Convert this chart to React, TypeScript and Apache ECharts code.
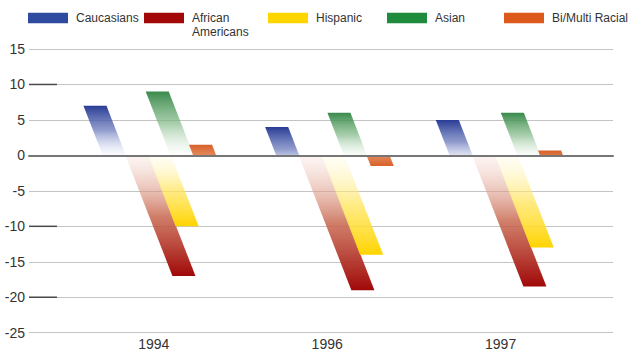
import React, { useEffect, useRef } from 'react';
import * as echarts from 'echarts';

// Year-over-year change by group (percentage points)
const years = ['1994', '1996', '1997'];
const caucasians = [7, 4, 5];
const africanAmericans = [-17, -19, -18.5];
const hispanic = [-10, -14, -13];
const asian = [9, 6, 6];
const biMultiRacial = [1.5, -1.5, 0.7];

// Value axis range and the levels that get a short dark rule at the left edge
const yMin = -25;
const yMax = 15;
const yStep = 5;
const darkRuleLevels = [10, -10, -20];

const groupNames = ['Caucasians', 'African Americans', 'Hispanic', 'Asian', 'Bi/Multi Racial'];
const groupValues = [caucasians, africanAmericans, hispanic, asian, biMultiRacial];

const FONT = '"Liberation Sans", Arial, sans-serif';

// Solid colours (legend swatches) and gradient ramps (bar tip -> zero line)
const swatchColors = ['#2f4b9f', '#a30808', '#ffd500', '#1f8b3d', '#de5a1c'];
const ramps: [number, string][][] = [
  [[0, 'rgba(40,60,148,1)'], [0.5, 'rgba(110,125,190,0.75)'], [1, 'rgba(220,225,245,0.15)']],
  [[0, 'rgba(160,8,8,1)'], [0.5, 'rgba(200,105,80,0.85)'], [1, 'rgba(245,215,205,0.25)']],
  [[0, 'rgba(255,212,0,1)'], [0.5, 'rgba(255,228,90,0.75)'], [1, 'rgba(255,248,210,0.2)']],
  [[0, 'rgba(58,138,76,1)'], [0.5, 'rgba(130,185,135,0.7)'], [1, 'rgba(225,240,225,0.1)']],
  [[0, 'rgba(216,96,42,1)'], [0.5, 'rgba(232,150,100,0.75)'], [1, 'rgba(250,220,200,0.2)']],
];

// Bar geometry, as fractions of one category band
const BAR_WIDTH = 0.133;
const BAR_PITCH = 0.1303;
const GROUP_SHIFT = 0.033;
const SLANT = 0.39; // horizontal shift per pixel of vertical travel
const MIN_FADE = 45; // px over which the gradient fades at least

function slantedBar(k: number) {
  return (_params: any, api: any) => {
    const cat = api.value(0);
    const v = api.value(1);
    const base = api.coord([cat, 0]);
    const tip = api.coord([cat, v]);
    const band = api.size([1, 0])[0];
    const w = band * BAR_WIDTH;
    const left = base[0] + band * GROUP_SHIFT + (k - 2) * band * BAR_PITCH - w / 2;
    const y0 = base[1];
    const y1 = tip[1];
    const s = (y1 - y0) * SLANT;
    const points = [
      [left, y0],
      [left + w, y0],
      [left + w + s, y1],
      [left + s, y1],
    ];
    const dir = y1 < y0 ? 1 : -1;
    const fade = Math.max(Math.abs(y0 - y1), MIN_FADE);
    const fill = new echarts.graphic.LinearGradient(
      0, y1, 0, y1 + dir * fade,
      ramps[k].map(([offset, color]) => ({ offset, color })),
      true
    );
    return { type: 'polygon', shape: { points }, style: { fill } };
  };
}

const legendLefts = [28, 144, 268, 387, 504];

export default function App() {
  const ref = useRef<HTMLDivElement>(null);

  useEffect(() => {
    if (!ref.current) return;
    const chart = echarts.init(ref.current, undefined, { renderer: 'svg' });

    const plotTop = 49;
    const plotBottom = 21.3;

    const option: any = {
      animation: false,
      backgroundColor: '#ffffff',
      textStyle: { fontFamily: FONT },
      legend: groupNames.map((name, k) => ({
        data: [name],
        left: legendLefts[k],
        top: 12,
        padding: 0,
        itemWidth: 40,
        itemHeight: 10.5,
        icon: 'rect',
        selectedMode: false,
        formatter: k === 1 ? () => 'African' : undefined,
        textStyle: {
          fontFamily: FONT,
          fontSize: 12,
          color: '#333',
          lineHeight: 12,
          padding: [0, 0, 0, 3],
        },
      })),
      graphic: [
        {
          type: 'text',
          left: 192,
          top: 25.5,
          style: { text: 'Americans', font: `12px ${FONT}`, fill: '#333', lineHeight: 12 },
        },
      ],
      grid: [
        { left: 29, right: 18, top: plotTop, bottom: plotBottom },
        { left: 67.1, right: 43.7, top: plotTop, bottom: plotBottom },
      ],
      xAxis: [
        {
          gridIndex: 0,
          type: 'value',
          min: 0,
          max: 1,
          z: 10,
          axisLine: { show: true, onZero: true, lineStyle: { color: '#767676', width: 2 } },
          axisTick: { show: false },
          axisLabel: { show: false },
          splitLine: { show: false },
        },
        {
          gridIndex: 1,
          type: 'category',
          data: years,
          axisLine: { show: false },
          axisTick: { show: false },
          splitLine: { show: false },
          axisLabel: { margin: 4, fontSize: 14, color: '#333', fontFamily: FONT },
        },
      ],
      yAxis: [
        {
          gridIndex: 0,
          type: 'value',
          min: yMin,
          max: yMax,
          interval: yStep,
          axisLine: { show: false },
          axisTick: { show: false },
          axisLabel: { margin: 4, fontSize: 14, color: '#333', fontFamily: FONT },
          splitLine: { lineStyle: { color: '#c4c4c4', width: 1 } },
        },
        {
          gridIndex: 1,
          type: 'value',
          min: yMin,
          max: yMax,
          interval: yStep,
          show: false,
        },
      ],
      series: [
        {
          type: 'custom',
          name: 'rules',
          xAxisIndex: 0,
          yAxisIndex: 0,
          silent: true,
          data: darkRuleLevels.map((v) => [0, v]),
          renderItem: (_p: any, api: any) => {
            const pt = api.coord([0, api.value(1)]);
            return {
              type: 'line',
              shape: { x1: pt[0], y1: pt[1], x2: pt[0] + 28, y2: pt[1] },
              style: { stroke: '#4a4a4a', lineWidth: 1.5 },
            };
          },
          z: 3,
        },
        ...groupNames.map((name, k) => ({
          type: 'custom',
          name,
          xAxisIndex: 1,
          yAxisIndex: 1,
          clip: false,
          itemStyle: { color: swatchColors[k] },
          data: groupValues[k].map((v, i) => [i, v]),
          encode: { x: 0, y: 1 },
          renderItem: slantedBar(k),
        })),
      ],
    };

    chart.setOption(option);
    return () => chart.dispose();
  }, []);

  return (
    <div
      ref={ref}
      style={{ position: 'fixed', left: 0, top: 0, width: 631, height: 354, background: '#fff' }}
    />
  );
}
